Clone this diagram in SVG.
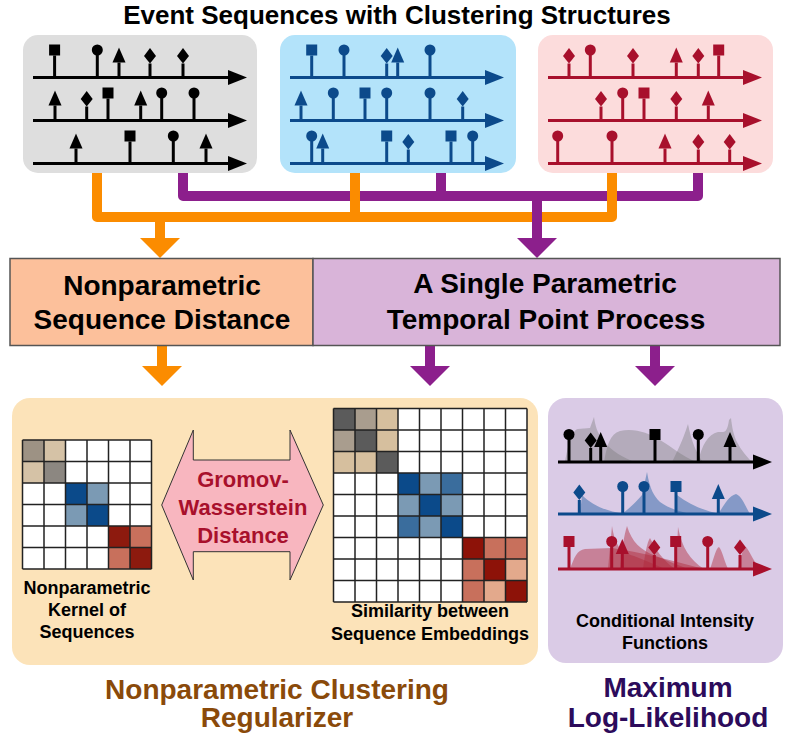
<svg xmlns="http://www.w3.org/2000/svg" width="792" height="748" viewBox="0 0 792 748">
<style>
text{font-family:"Liberation Sans",Arial,sans-serif;font-weight:bold;text-anchor:middle}
.t26{font-size:26px;fill:#000}
.t28{font-size:28px;fill:#000}
.t18{font-size:18px;fill:#000}
.gw{font-size:22px;fill:#a8102c}
.brown{font-size:28px;fill:#8a4a0a}
.dpur{font-size:28px;fill:#2c0b5b}
.grid{fill:none;stroke:#222;stroke-width:1.5}
.org{fill:none;stroke:#fb8c00;stroke-width:10;stroke-linejoin:round}
.pur{fill:none;stroke:#8c1f8c;stroke-width:10;stroke-linejoin:round}
.stem{stroke:currentColor;stroke-width:3}
.mk{fill:currentColor}
.k{color:#000}
.b{color:#0c4a8b}
.r{color:#a8102c}
.ig{fill:#7a7a7a;fill-opacity:0.4}
.ib{fill:#2f67a8;fill-opacity:0.5}
.ir{fill:#b0283a;fill-opacity:0.45}
</style>
<defs>
<g id="tl"><path class="stem" d="M0,0 H196"/><polygon class="mk" points="195,-7.5 214,0 195,7.5"/></g>
<g id="sq"><path class="stem" d="M0,0 V-22"/><rect class="mk" x="-5.5" y="-33" width="11" height="11"/></g>
<g id="ci"><path class="stem" d="M0,0 V-24"/><circle class="mk" cx="0" cy="-27.5" r="5.5"/></g>
<g id="tr"><path class="stem" d="M0,0 V-15"/><polygon class="mk" points="0,-30 6.5,-15 -6.5,-15"/></g>
<g id="di"><path class="stem" d="M0,0 V-14"/><polygon class="mk" points="0,-29.5 6,-21.5 0,-14 -6,-21.5"/></g>
</defs>

<text class="t26" x="397" y="24">Event Sequences with Clustering Structures</text>

<g id="panel-gray" class="k">
<rect x="23" y="35" width="234" height="138" rx="15" fill="#dedede"/>
<use href="#tl" x="33" y="77.5"/><use href="#tl" x="33" y="120.5"/><use href="#tl" x="33" y="163.5"/>
<use href="#sq" x="54.6" y="77.5"/><use href="#ci" x="97.3" y="77.5"/><use href="#tr" x="119" y="77.5"/><use href="#di" x="150" y="77.5"/><use href="#di" x="183" y="77.5"/>
<use href="#tr" x="55" y="120.5"/><use href="#di" x="86.7" y="120.5"/><use href="#sq" x="108" y="120.5"/><use href="#tr" x="140.7" y="120.5"/><use href="#ci" x="161.7" y="120.5"/><use href="#ci" x="194" y="120.5"/>
<use href="#tr" x="76" y="163.5"/><use href="#sq" x="130" y="163.5"/><use href="#ci" x="173.3" y="163.5"/><use href="#tr" x="206" y="163.5"/>
</g>

<g id="panel-blue" class="b">
<rect x="280" y="35" width="236" height="138" rx="15" fill="#b3e3fa"/>
<use href="#tl" x="290" y="77.5"/><use href="#tl" x="290" y="120.5"/><use href="#tl" x="290" y="163.5"/>
<use href="#sq" x="311.7" y="77.5"/><use href="#ci" x="344" y="77.5"/><use href="#di" x="386.7" y="77.5"/><use href="#tr" x="397.7" y="77.5"/><use href="#ci" x="430" y="77.5"/>
<use href="#tr" x="301" y="120.5"/><use href="#ci" x="333.3" y="120.5"/><use href="#sq" x="365" y="120.5"/><use href="#ci" x="386.7" y="120.5"/><use href="#ci" x="430" y="120.5"/><use href="#di" x="462.7" y="120.5"/>
<use href="#ci" x="311.7" y="163.5"/><use href="#tr" x="322.7" y="163.5"/><use href="#sq" x="386.7" y="163.5"/><use href="#di" x="408.3" y="163.5"/><use href="#sq" x="451" y="163.5"/><use href="#ci" x="472.7" y="163.5"/>
</g>

<g id="panel-pink" class="r">
<rect x="538" y="35" width="235" height="138" rx="15" fill="#fcdcdc"/>
<use href="#tl" x="548" y="77.5"/><use href="#tl" x="548" y="120.5"/><use href="#tl" x="548" y="163.5"/>
<use href="#di" x="569" y="77.5"/><use href="#ci" x="590.3" y="77.5"/><use href="#di" x="633" y="77.5"/><use href="#tr" x="676.3" y="77.5"/><use href="#di" x="698.3" y="77.5"/><use href="#sq" x="718.7" y="77.5"/>
<use href="#di" x="601" y="120.5"/><use href="#ci" x="622.7" y="120.5"/><use href="#sq" x="644" y="120.5"/><use href="#di" x="676.3" y="120.5"/><use href="#tr" x="708.3" y="120.5"/>
<use href="#ci" x="557.7" y="163.5"/><use href="#ci" x="612" y="163.5"/><use href="#tr" x="665" y="163.5"/><use href="#di" x="698.3" y="163.5"/><use href="#di" x="729.7" y="163.5"/>
</g>

<g id="connectors">
<path class="pur" d="M183,173 V196 H698 V173 M441,173 V196"/>
<path class="org" d="M97,173 V217 H612 V173 M355,173 V217 M160,217 V239"/>
<polygon points="140,238 180,238 160,258" fill="#fb8c00"/>
<path class="pur" d="M537,196 V239"/>
<polygon points="517,238 557,238 537,258" fill="#8c1f8c"/>
<path class="org" d="M162,345 V367"/>
<polygon points="142,366 182,366 162,386" fill="#fb8c00"/>
<path class="pur" d="M430,345 V367 M655,345 V367"/>
<polygon points="410,366 450,366 430,386" fill="#8c1f8c"/>
<polygon points="635,366 675,366 655,386" fill="#8c1f8c"/>
</g>

<g id="box-nonparam">
<rect x="10" y="258.5" width="303" height="87" fill="#fcc09b" stroke="#555" stroke-width="1.5"/>
<text class="t28" x="162" y="295">Nonparametric</text>
<text class="t28" x="162" y="329">Sequence Distance</text>
</g>
<g id="box-tpp">
<rect x="313" y="258.5" width="467" height="87" fill="#d9b4d9" stroke="#555" stroke-width="1.5"/>
<text class="t28" x="545" y="293">A Single Parametric</text>
<text class="t28" x="546" y="329">Temporal Point Process</text>
</g>

<g id="panel-regularizer">
<rect x="12" y="398" width="526" height="267" rx="18" fill="#fce3b9"/>
<g id="kernel-matrix">
<rect x="22.5" y="440" width="129" height="129" fill="#fff"/>
<rect x="22.5" y="440" width="21.5" height="21.5" fill="#9d9284"/>
<rect x="44" y="440" width="21.5" height="21.5" fill="#d5c2a6"/>
<rect x="22.5" y="461.5" width="21.5" height="21.5" fill="#d5c2a6"/>
<rect x="44" y="461.5" width="21.5" height="21.5" fill="#8c8781"/>
<rect x="65.5" y="483" width="21.5" height="21.5" fill="#0b4a8a"/>
<rect x="87" y="483" width="21.5" height="21.5" fill="#7b9ab4"/>
<rect x="65.5" y="504.5" width="21.5" height="21.5" fill="#7b9ab4"/>
<rect x="87" y="504.5" width="21.5" height="21.5" fill="#0b4a8a"/>
<rect x="108.5" y="526" width="21.5" height="21.5" fill="#8d1a0e"/>
<rect x="130" y="526" width="21.5" height="21.5" fill="#c8705c"/>
<rect x="108.5" y="547.5" width="21.5" height="21.5" fill="#c8705c"/>
<rect x="130" y="547.5" width="21.5" height="21.5" fill="#8d1a0e"/>
<path class="grid" d="M22.5,440 V569 M44,440 V569 M65.5,440 V569 M87,440 V569 M108.5,440 V569 M130,440 V569 M151.5,440 V569 M22.5,440 H151.5 M22.5,461.5 H151.5 M22.5,483 H151.5 M22.5,504.5 H151.5 M22.5,526 H151.5 M22.5,547.5 H151.5 M22.5,569 H151.5"/>
</g>
<text class="t18" x="87" y="594">Nonparametric</text>
<text class="t18" x="87" y="616">Kernel of</text>
<text class="t18" x="87" y="638">Sequences</text>

<g id="gw-arrow">
<path d="M161.7,505 L193.3,430 L193.3,460 L290,460 L290,430 L323.3,505 L290,580 L290,551.7 L193.3,551.7 L193.3,580 Z" fill="#f8b6bf" stroke="#333" stroke-width="1"/>
<text class="gw" x="243" y="487">Gromov-</text>
<text class="gw" x="243" y="515">Wasserstein</text>
<text class="gw" x="243" y="543">Distance</text>
</g>

<g id="similarity-matrix">
<rect x="333.5" y="408.5" width="193.5" height="193.5" fill="#fff"/>
<rect x="333.5" y="408.5" width="21.5" height="21.5" fill="#5b5b5b"/>
<rect x="355" y="408.5" width="21.5" height="21.5" fill="#a99d8e"/>
<rect x="376.5" y="408.5" width="21.5" height="21.5" fill="#d6bf9e"/>
<rect x="333.5" y="430" width="21.5" height="21.5" fill="#a99d8e"/>
<rect x="355" y="430" width="21.5" height="21.5" fill="#5b5b5b"/>
<rect x="376.5" y="430" width="21.5" height="21.5" fill="#d6bf9e"/>
<rect x="333.5" y="451.5" width="21.5" height="21.5" fill="#d6bf9e"/>
<rect x="355" y="451.5" width="21.5" height="21.5" fill="#d6bf9e"/>
<rect x="376.5" y="451.5" width="21.5" height="21.5" fill="#5b5b5b"/>
<rect x="398" y="473" width="21.5" height="21.5" fill="#0b4a8a"/>
<rect x="419.5" y="473" width="21.5" height="21.5" fill="#7b9ab4"/>
<rect x="441" y="473" width="21.5" height="21.5" fill="#3a6d9d"/>
<rect x="398" y="494.5" width="21.5" height="21.5" fill="#7b9ab4"/>
<rect x="419.5" y="494.5" width="21.5" height="21.5" fill="#0b4a8a"/>
<rect x="441" y="494.5" width="21.5" height="21.5" fill="#7b9ab4"/>
<rect x="398" y="516" width="21.5" height="21.5" fill="#3a6d9d"/>
<rect x="419.5" y="516" width="21.5" height="21.5" fill="#7b9ab4"/>
<rect x="441" y="516" width="21.5" height="21.5" fill="#0b4a8a"/>
<rect x="462.5" y="537.5" width="21.5" height="21.5" fill="#8d1208"/>
<rect x="484" y="537.5" width="21.5" height="21.5" fill="#c8705c"/>
<rect x="505.5" y="537.5" width="21.5" height="21.5" fill="#c8705c"/>
<rect x="462.5" y="559" width="21.5" height="21.5" fill="#c8705c"/>
<rect x="484" y="559" width="21.5" height="21.5" fill="#8d1208"/>
<rect x="505.5" y="559" width="21.5" height="21.5" fill="#e3a98c"/>
<rect x="462.5" y="580.5" width="21.5" height="21.5" fill="#c8705c"/>
<rect x="484" y="580.5" width="21.5" height="21.5" fill="#e3a98c"/>
<rect x="505.5" y="580.5" width="21.5" height="21.5" fill="#8d1208"/>
<path class="grid" d="M333.5,408.5 V602 M355,408.5 V602 M376.5,408.5 V602 M398,408.5 V602 M419.5,408.5 V602 M441,408.5 V602 M462.5,408.5 V602 M484,408.5 V602 M505.5,408.5 V602 M527,408.5 V602 M333.5,408.5 H527 M333.5,430 H527 M333.5,451.5 H527 M333.5,473 H527 M333.5,494.5 H527 M333.5,516 H527 M333.5,537.5 H527 M333.5,559 H527 M333.5,580.5 H527 M333.5,602 H527"/>
</g>
<text class="t18" x="430" y="617">Similarity between</text>
<text class="t18" x="430" y="640">Sequence Embeddings</text>
</g>

<g id="panel-likelihood">
<rect x="548" y="398" width="235" height="265" rx="18" fill="#dacbe6"/>
<g id="intensity-black">
<path class="ig" d="M565,462 C568,445 572,430 578,429 L590,428 L594,417 C596,432 602,448 632,461 L632,462 Z"/>
<path class="ig" d="M604,462 C607,445 610,434 620,431 C635,428 648,433 660,440 C672,447 682,456 696,462 Z"/>
<path class="ig" d="M672,462 C677,452 683,440 688,424 C691,440 697,455 703,462 Z"/>
<path class="ig" d="M698,462 C702,445 708,434 718,432 C724,432 727,434 729,420 L731,418 C733,436 736,445 752,462 Z"/>
<use class="k" href="#tl" x="558" y="462"/>
<use class="k" href="#ci" x="569" y="462"/><use class="k" href="#di" x="590.7" y="462"/><use class="k" href="#tr" x="600.7" y="462"/><use class="k" href="#sq" x="655" y="462"/><use class="k" href="#ci" x="698.3" y="462"/><use class="k" href="#tr" x="730" y="462"/>
</g>
<g id="intensity-blue">
<path class="ib" d="M580,514 L582,495 C592,505 605,511 625,514 Z"/>
<path class="ib" d="M622,514 C630,508 638,500 642,495 L647,472 C650,490 654,496 660,502 C668,508 680,512 692,514 Z"/>
<path class="ib" d="M676,514 L677,495 C690,505 705,511 720,514 Z"/>
<path class="ib" d="M718,514 C724,506 728,496 736,494 C742,496 745,506 750,514 Z"/>
<use class="b" href="#tl" x="558" y="514"/>
<use class="b" href="#di" x="579.3" y="514"/><use class="b" href="#ci" x="622.7" y="514"/><use class="b" href="#ci" x="644" y="514"/><use class="b" href="#sq" x="676" y="514"/><use class="b" href="#tr" x="718.3" y="514"/>
</g>
<g id="intensity-red">
<path class="ir" d="M570,569 C574,558 577,550 585,549 L612,548 C640,552 670,560 704,569 Z"/>
<path class="ir" d="M608,569 L612,526 C615,545 620,552 634,556 C645,560 655,565 665,569 Z"/>
<path class="ir" d="M620,569 C622,550 624,535 627,526 C632,542 640,550 656,556 C668,561 678,565 688,569 Z"/>
<path class="ir" d="M643,569 C645,555 647,542 650,538 C655,548 662,560 675,569 Z"/>
<path class="ir" d="M676,569 L678,527 C682,548 690,560 704,569 Z"/>
<path class="ir" d="M710,569 C714,558 716,548 719,547 C722,550 724,560 728,569 Z"/>
<path class="ir" d="M738,569 C741,556 743,548 746,547 C750,552 754,562 760,569 Z"/>
<use class="r" href="#tl" x="558" y="569"/>
<use class="r" href="#sq" x="569" y="569"/><use class="r" href="#ci" x="611.7" y="569"/><use class="r" href="#tr" x="622.3" y="569"/><use class="r" href="#di" x="654.3" y="569"/><use class="r" href="#sq" x="675.7" y="569"/><use class="r" href="#ci" x="707.7" y="569"/><use class="r" href="#di" x="740" y="569"/>
</g>
<text class="t18" x="665" y="627">Conditional Intensity</text>
<text class="t18" x="665" y="649">Functions</text>
</g>

<g id="bottom-labels">
<text class="brown" x="277" y="699">Nonparametric Clustering</text>
<text class="brown" x="277" y="727">Regularizer</text>
<text class="dpur" x="668" y="697">Maximum</text>
<text class="dpur" x="668" y="727">Log-Likelihood</text>
</g>
</svg>
